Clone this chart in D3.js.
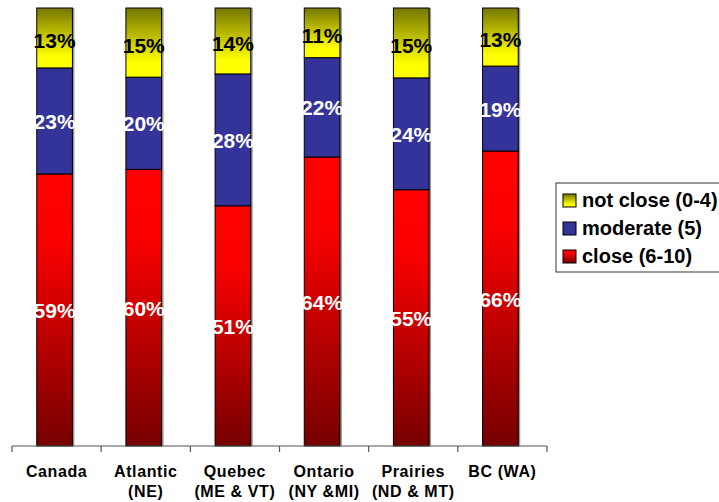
<!DOCTYPE html>
<html><head><meta charset="utf-8">
<script src="https://cdn.jsdelivr.net/npm/d3@7"></script>
<style>html,body{margin:0;padding:0;background:#fff;}svg{display:block;font-family:"Liberation Sans",Arial,sans-serif;}</style>
</head><body>
<script>
const categories = ["Canada|", "Atlantic|(NE)", "Quebec|(ME & VT)", "Ontario|(NY &MI)", "Prairies|(ND & MT)", "BC (WA)|"];
const closeVals    = [59, 60, 51, 64, 55, 66];
const moderateVals = [23, 20, 28, 22, 24, 19];
const notCloseVals = [13, 15, 14, 11, 15, 13];
const seriesNames  = ["close (6-10)", "moderate (5)", "not close (0-4)"];
const keys = ["close", "moderate", "notClose"];

const W = 719, H = 502;
const svg = d3.select("body").append("svg").attr("width", W).attr("height", H);
const defs = svg.append("defs");
const gY = defs.append("linearGradient").attr("id","gY").attr("x1",0).attr("y1",0).attr("x2",0).attr("y2",1);
gY.append("stop").attr("offset",0).attr("stop-color","#767600");
gY.append("stop").attr("offset",0.8).attr("stop-color","#ffff00");
gY.append("stop").attr("offset",1).attr("stop-color","#ffff00");
const gR = defs.append("linearGradient").attr("id","gR").attr("x1",0).attr("y1",0).attr("x2",0).attr("y2",1);
gR.append("stop").attr("offset",0).attr("stop-color","#ff0000");
gR.append("stop").attr("offset",0.25).attr("stop-color","#fa0000");
gR.append("stop").attr("offset",1).attr("stop-color","#760000");
const fills = {close:"url(#gR)", moderate:"#333399", notClose:"url(#gY)"};
const labelColor = {close:"#fff", moderate:"#fff", notClose:"#000"};
const labelShift = {close:8, moderate:8, notClose:10};

const data = categories.map((c,i)=>({cat:c, close:closeVals[i], moderate:moderateVals[i], notClose:notCloseVals[i]}));
const stacked = d3.stack().keys(keys).offset(d3.stackOffsetExpand)(data);

const x = d3.scaleBand().domain(categories).range([10, 545]).paddingInner(0.6).paddingOuter(0.3);
const y = d3.scaleLinear().domain([0,1]).range([446, 8]);

// bar shadows
svg.append("g").selectAll("rect").data(data).join("rect")
  .attr("x", d=>x(d.cat)+2).attr("y", y(1)).attr("width", x.bandwidth())
  .attr("height", y(0)-y(1)).attr("fill","#9a9a9a");

const layers = svg.append("g").selectAll("g").data(stacked).join("g");
layers.selectAll("rect").data(s=>s.map(d=>({key:s.key, d}))).join("rect")
  .attr("x", o=>x(o.d.data.cat)).attr("y", o=>y(o.d[1]))
  .attr("width", x.bandwidth()).attr("height", o=>y(o.d[0])-y(o.d[1]))
  .attr("fill", o=>fills[o.key]).attr("stroke","#000").attr("stroke-width",1);

layers.selectAll("text").data(s=>s.map(d=>({key:s.key, d}))).join("text")
  .attr("x", o=>x(o.d.data.cat)+x.bandwidth()/2)
  .attr("y", o=>(y(o.d[0])+y(o.d[1]))/2 + labelShift[o.key])
  .attr("text-anchor","middle").attr("font-size",21).attr("font-weight","bold")
  .attr("fill", o=>labelColor[o.key]).text(o=>o.d.data[o.key]+"%");

// x axis
const ax = svg.append("g").attr("transform","translate(0,446)");
ax.append("line").attr("x1",12).attr("x2",547).attr("stroke","#555").attr("stroke-width",1.2);
d3.range(categories.length+1).forEach(i=>{
  const tx = 12 + i*(535/categories.length);
  ax.append("line").attr("x1",tx).attr("x2",tx).attr("y1",0).attr("y2",6).attr("stroke","#555").attr("stroke-width",1.2);
});
categories.forEach(c=>{
  const parts = c.split("|");
  const cx = x(c)+x.bandwidth()/2 + 2;
  parts.forEach((p,j)=>{
    if(!p) return;
    ax.append("text").attr("x",cx).attr("y",31+j*20).attr("text-anchor","middle")
      .attr("font-size",16).attr("font-weight","bold").attr("letter-spacing",0.6).attr("fill","#000").text(p);
  });
});

// legend
const lg = svg.append("g");
lg.append("rect").attr("x",556).attr("y",183).attr("width",170).attr("height",89)
  .attr("fill","#fff").attr("stroke","#333").attr("stroke-width",1);
const legendKeys = ["notClose","moderate","close"];
const legendNames = {notClose:seriesNames[2], moderate:seriesNames[1], close:seriesNames[0]};
legendKeys.forEach((k,i)=>{
  const yy = 194 + i*28;
  lg.append("rect").attr("x",563).attr("y",yy).attr("width",13).attr("height",13)
    .attr("fill",fills[k]).attr("stroke","#000").attr("stroke-width",1);
  lg.append("text").attr("x",582).attr("y",yy+13).attr("font-size",20).attr("font-weight","bold")
    .attr("fill","#000").text(legendNames[k]);
});
</script>
</body></html>
